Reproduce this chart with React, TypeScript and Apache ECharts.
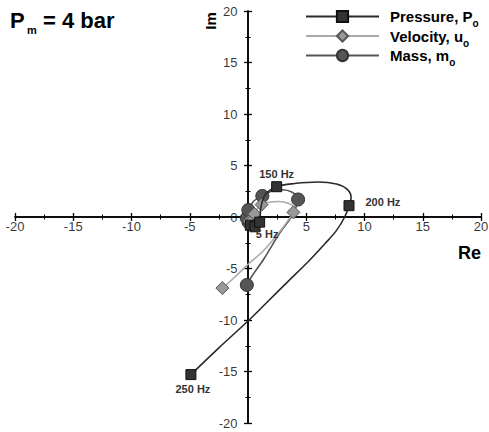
import React, { useEffect, useRef } from 'react';
import * as echarts from 'echarts';

const FONT = '"Liberation Sans", Arial, Helvetica, sans-serif';

// Axis ticks
const axisMin = -20;
const axisMax = 20;
const axisStep = 5;
const xTickLabels = [-20, -15, -10, -5, 0, 5, 10, 15, 20];
const yTickLabels = [-20, -15, -10, -5, 0, 5, 10, 15, 20];

// Pressure, Po (Re, Im, frequency of marker)
const pressureRe = [0.2, 0.6, 1.0, 1.1, 1.5, 2.46, 4.0, 6.0, 7.6, 8.5, 8.85, 8.67, 8.3, 7.6, 6.6, 5.2, 3.4, 1.7, 0.0, -2.5, -4.9];
const pressureIm = [-0.8, -0.95, -0.5, 0.9, 2.2, 2.94, 3.25, 3.4, 3.2, 2.7, 1.9, 1.1, 0.0, -1.3, -2.6, -4.3, -6.3, -8.2, -10.1, -12.7, -15.3];
const pressureHz = [5, 50, 100, null, null, 150, null, null, null, null, null, 200, null, null, null, null, null, null, null, null, 250];

// Velocity, uo
const velocityRe = [0.1, 0.35, 0.55, 0.85, 1.17, 1.9, 2.7, 3.5, 3.95, 3.9, 3.4, 2.6, 1.3, 0.0, -1.1, -2.2];
const velocityIm = [-0.4, -0.35, 0.3, 0.9, 1.2, 1.45, 1.5, 1.3, 0.9, 0.45, -0.4, -1.6, -3.3, -4.6, -5.8, -6.9];
const velocityHz = [5, 50, 100, null, 150, null, null, null, null, 200, null, null, null, null, null, 250];

// Mass, mo
const massRe = [0.05, -0.1, 0.03, 0.5, 1.23, 2.0, 2.9, 3.8, 4.3, 4.1, 3.6, 2.75, 1.4, 0.3, -0.1];
const massIm = [-0.5, -0.1, 0.68, 1.55, 2.04, 2.5, 2.65, 2.4, 1.7, 0.9, -0.2, -1.5, -4.0, -5.8, -6.6];
const massHz = [5, 50, 100, null, 150, null, null, null, 200, null, null, null, null, null, 250];

// Frequencies that get a text label on the pressure curve
const labelledHz = [5, 150, 200, 250];

const labelFor = (hz: number | null) => {
  const base = { show: true, formatter: `${hz} Hz`, fontFamily: FONT, fontWeight: 'bold' as const, fontSize: 11, color: '#333' };
  if (hz === 5) return { ...base, position: 'right', distance: 0, offset: [0, 9] };
  if (hz === 150) return { ...base, position: 'top', distance: 2 };
  if (hz === 200) return { ...base, position: 'right', distance: 11, offset: [0, -4] };
  if (hz === 250) return { ...base, position: 'bottom', distance: 3, offset: [2, 0] };
  return { show: false };
};

const buildData = (re: number[], im: number[], hz: (number | null)[], withLabels: boolean) =>
  re.map((x, i) => {
    const f = hz[i];
    const item: any = { value: [x, im[i]] };
    if (f == null) item.symbol = 'none';
    else if (withLabels && labelledHz.includes(f)) item.label = labelFor(f);
    return item;
  });

// Two axes per dimension, both on zero: one with outward ticks, one with the opposite ones,
// so that the ticks cross the axis line.
const makeAxis = (position: string) => ({
  type: 'value',
  min: axisMin,
  max: axisMax,
  interval: axisStep,
  position,
  axisLine: { show: true, onZero: true, lineStyle: { color: '#000', width: 1.5 } },
  axisTick: { show: true, length: 4, lineStyle: { color: '#000', width: 1.3 } },
  minorTick: { show: true, splitNumber: 2, length: 2.5, lineStyle: { color: '#000', width: 1 } },
  splitLine: { show: false },
  minorSplitLine: { show: false },
  axisLabel: { show: false },
});

const tickLabelStyle = { fontFamily: FONT, fontSize: 13, color: '#000' };

const legendRich = {
  a: { fontFamily: FONT, fontSize: 15, fontWeight: 'bold', color: '#000', lineHeight: 24 },
  s: { fontFamily: FONT, fontSize: 10, fontWeight: 'bold', color: '#000', verticalAlign: 'bottom' },
};

const legendNames: Record<string, string> = {
  Pressure: '{a|Pressure, P}{s|o}',
  Velocity: '{a|Velocity, u}{s|o}',
  Mass: '{a|Mass, m}{s|o}',
};

export default function App() {
  const ref = useRef<HTMLDivElement>(null);
  useEffect(() => {
    const chart = echarts.init(ref.current!, null, { renderer: 'svg' });
    const option: any = {
      animation: false,
      backgroundColor: '#fff',
      grid: { left: 15, right: 8, top: 11, bottom: 9, containLabel: false, outerBoundsMode: 'none' },
      xAxis: [makeAxis('bottom'), makeAxis('top')],
      yAxis: [makeAxis('left'), makeAxis('right')],
      legend: {
        orient: 'vertical',
        left: 300,
        top: 4,
        itemWidth: 73,
        itemHeight: 14,
        itemGap: 0,
        data: ['Pressure', 'Velocity', 'Mass'],
        formatter: (n: string) => legendNames[n],
        textStyle: { rich: legendRich, padding: [0, 0, 0, 6] },
      },
      graphic: [
        {
          type: 'text', x: 10, y: 20,
          style: { text: 'P', fontFamily: FONT, fontSize: 22, fontWeight: 'bold', fill: '#000', align: 'left', verticalAlign: 'middle' },
        },
        {
          type: 'text', x: 27, y: 30,
          style: { text: 'm', fontFamily: FONT, fontSize: 11, fontWeight: 'bold', fill: '#000', align: 'left', verticalAlign: 'middle' },
        },
        {
          type: 'text', x: 43, y: 20,
          style: { text: '= 4 bar', fontFamily: FONT, fontSize: 22, fontWeight: 'bold', fill: '#000', align: 'left', verticalAlign: 'middle' },
        },
        {
          type: 'text', x: 210, y: 21, rotation: Math.PI / 2,
          style: { text: 'Im', fontFamily: FONT, fontSize: 15, fontWeight: 'bold', fill: '#000', align: 'center', verticalAlign: 'middle' },
        },
        {
          type: 'text', x: 481, y: 253,
          style: { text: 'Re', fontFamily: FONT, fontSize: 18, fontWeight: 'bold', fill: '#000', align: 'right', verticalAlign: 'middle' },
        },
      ],
      series: [
        {
          name: 'Pressure', type: 'line', smooth: 0.35, symbol: 'rect', symbolSize: 10, z: 4,
          data: buildData(pressureRe, pressureIm, pressureHz, true),
          lineStyle: { color: '#2a2a2a', width: 1.6 },
          itemStyle: { color: '#333', borderColor: '#111', borderWidth: 1 },
        },
        {
          name: 'Velocity', type: 'line', smooth: 0.35, symbol: 'diamond', symbolSize: 13, z: 3,
          data: buildData(velocityRe, velocityIm, velocityHz, false),
          lineStyle: { color: '#aaaaaa', width: 1.6 },
          itemStyle: { color: '#999', borderColor: '#555', borderWidth: 1 },
        },
        {
          name: 'Mass', type: 'line', smooth: 0.35, symbol: 'circle', symbolSize: 13, z: 2,
          data: buildData(massRe, massIm, massHz, false),
          lineStyle: { color: '#555', width: 1.6 },
          itemStyle: { color: '#555', borderColor: '#333', borderWidth: 1 },
        },
        {
          name: 'xTicks', type: 'scatter', silent: true, symbolSize: 1, z: 1,
          itemStyle: { color: 'transparent' },
          data: xTickLabels.map((v) => [v, 0]),
          label: { show: true, position: 'bottom', distance: 2, formatter: (p: any) => String(p.value[0]), ...tickLabelStyle },
        },
        {
          name: 'yTicks', type: 'scatter', silent: true, symbolSize: 1, z: 1,
          itemStyle: { color: 'transparent' },
          data: yTickLabels.map((v) => [0, v]),
          label: { show: true, position: 'left', distance: 10, formatter: (p: any) => String(p.value[1]), ...tickLabelStyle },
        },
      ],
    };
    chart.setOption(option);
    return () => chart.dispose();
  }, []);
  return <div ref={ref} style={{ position: 'absolute', left: 0, top: 0, width: 489, height: 432 }} />;
}
